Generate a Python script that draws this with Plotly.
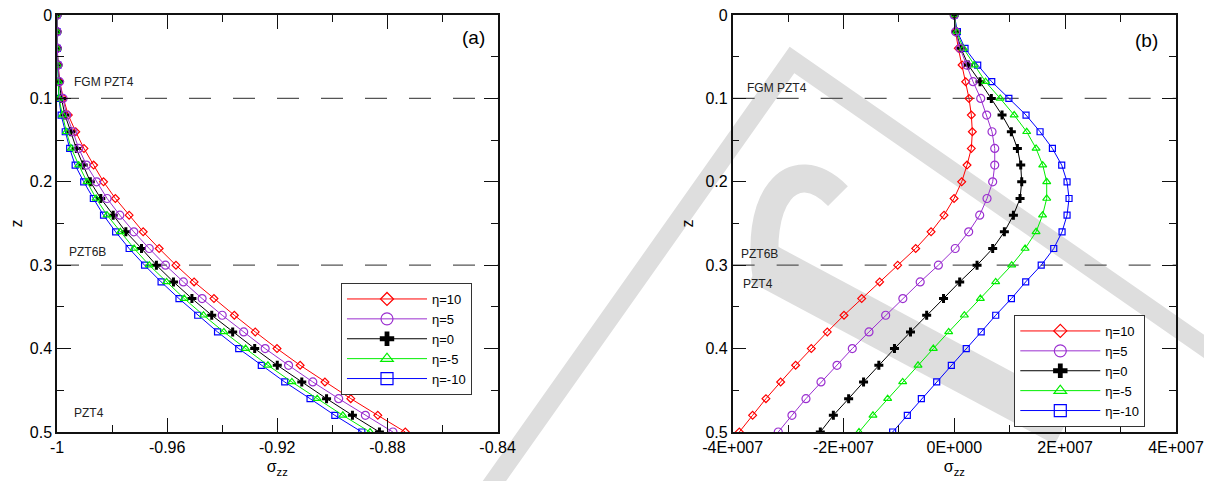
import plotly.graph_objects as go

# ---------------- data ----------------
z = [0.00, 0.02, 0.04, 0.06, 0.08, 0.10, 0.12, 0.14, 0.16, 0.18, 0.20, 0.22, 0.24,
     0.26, 0.28, 0.30, 0.32, 0.34, 0.36, 0.38, 0.40, 0.42, 0.44, 0.46, 0.48, 0.50]

# panel (a): normalised sigma_zz
a_eta10 = [-1.0000, -1.0000, -0.9999, -0.9996, -0.9990, -0.9977, -0.9959, -0.9932, -0.9902,
           -0.9867, -0.9831, -0.9788, -0.9738, -0.9687, -0.9629, -0.9568, -0.9502, -0.9430,
           -0.9356, -0.9280, -0.9201, -0.9117, -0.9027, -0.8933, -0.8835, -0.8735]
a_eta5 = [-1.0000, -1.0000, -0.9999, -0.9996, -0.9991, -0.9978, -0.9965, -0.9942, -0.9921,
          -0.9893, -0.9856, -0.9818, -0.9772, -0.9721, -0.9665, -0.9606, -0.9541, -0.9473,
          -0.9400, -0.9322, -0.9244, -0.9159, -0.9071, -0.8977, -0.8880, -0.8780]
a_eta0 = [-1.0000, -1.0000, -0.9999, -0.9997, -0.9992, -0.9984, -0.9971, -0.9950, -0.9930,
          -0.9905, -0.9879, -0.9841, -0.9796, -0.9750, -0.9693, -0.9639, -0.9577, -0.9510,
          -0.9438, -0.9362, -0.9282, -0.9200, -0.9111, -0.9021, -0.8927, -0.8829]
a_etam5 = [-1.0000, -1.0000, -0.9999, -0.9997, -0.9995, -0.9993, -0.9980, -0.9966, -0.9948,
           -0.9921, -0.9891, -0.9858, -0.9818, -0.9770, -0.9720, -0.9665, -0.9602, -0.9538,
           -0.9468, -0.9394, -0.9315, -0.9234, -0.9147, -0.9055, -0.8962, -0.8863]
a_etam10 = [-1.0000, -1.0000, -0.9999, -0.9997, -0.9995, -0.9993, -0.9985, -0.9970, -0.9954,
            -0.9934, -0.9903, -0.9868, -0.9831, -0.9787, -0.9738, -0.9682, -0.9622, -0.9557,
            -0.9489, -0.9417, -0.9340, -0.9258, -0.9173, -0.9081, -0.8991, -0.8893]

# panel (b): sigma_zz in units of 1E+007
b_eta10 = [0.000, 0.024, 0.072, 0.140, 0.205, 0.265, 0.307, 0.325, 0.307, 0.229, 0.133,
           -0.005, -0.186, -0.420, -0.697, -1.022, -1.347, -1.672, -1.991, -2.292, -2.581,
           -2.864, -3.134, -3.399, -3.640, -3.880]
b_eta5 = [0.000, 0.024, 0.103, 0.223, 0.338, 0.476, 0.584, 0.680, 0.729, 0.729, 0.692,
          0.590, 0.458, 0.259, 0.016, -0.288, -0.616, -0.929, -1.239, -1.540, -1.841,
          -2.117, -2.406, -2.677, -2.930, -3.177]
b_eta0 = [0.000, 0.030, 0.120, 0.252, 0.464, 0.668, 0.861, 1.029, 1.138, 1.198, 1.216,
          1.186, 1.066, 0.903, 0.692, 0.410, 0.097, -0.195, -0.499, -0.791, -1.080,
          -1.362, -1.638, -1.907, -2.183, -2.418]
b_etam5 = [0.000, 0.042, 0.163, 0.356, 0.563, 0.827, 1.080, 1.306, 1.475, 1.595, 1.667,
           1.667, 1.592, 1.475, 1.277, 1.035, 0.746, 0.470, 0.181, -0.102, -0.379,
           -0.655, -0.932, -1.203, -1.468, -1.720]
b_etam10 = [0.000, 0.055, 0.193, 0.422, 0.675, 0.984, 1.294, 1.547, 1.770, 1.938, 2.034,
            2.070, 2.034, 1.944, 1.794, 1.568, 1.288, 1.030, 0.747, 0.485, 0.215,
            -0.054, -0.318, -0.595, -0.848, -1.113]
b_unit = 1e7

names = ["η=10", "η=5", "η=0", "η=-5", "η=-10"]
a_series = [a_eta10, a_eta5, a_eta0, a_etam5, a_etam10]
b_series = [b_eta10, b_eta5, b_eta0, b_etam5, b_etam10]

a_ticks = [-1.0, -0.96, -0.92, -0.88, -0.84]
a_ticktext = ["-1", "-0.96", "-0.92", "-0.88", "-0.84"]
a_minor = [-0.98, -0.94, -0.90, -0.86]
b_ticks = [-4e7, -2e7, 0.0, 2e7, 4e7]
b_ticktext = ["-4E+007", "-2E+007", "0E+000", "2E+007", "4E+007"]
b_minor = [-3e7, -1e7, 1e7, 3e7]
z_ticks = [0.0, 0.1, 0.2, 0.3, 0.4, 0.5]
z_ticktext = ["0", "0.1", "0.2", "0.3", "0.4", "0.5"]
z_minor = [0.05, 0.15, 0.25, 0.35, 0.45]
interfaces = [0.1, 0.3]

# ---------------- styles ----------------
colors = ["#ff0000", "#9b30d0", "#000000", "#00ee00", "#0000ff"]
symbols = ["diamond-open", "circle-open", "cross", "triangle-up-open", "square-open"]
sizes = [6, 8, 7.5, 7, 6]
leg_sizes = [10, 12, 12, 11, 12]
draw_order = [4, 0, 2, 3, 1]
FONT = "Liberation Sans, Arial, sans-serif"
W, H = 1212, 481
PAGE = 8  # default body margin of the html page
ML, MR, MT, MB = 57 - PAGE, 36 + PAGE, 15 - PAGE, 49 + PAGE


def marker(i, size):
    return dict(symbol=symbols[i], size=size, color=colors[i],
                line=dict(color=colors[i], width=1.2 if symbols[i] != "cross" else 0))


fig = go.Figure()
for xa, ya, lg, series, scale in (("x", "y", "legend", a_series, 1.0),
                                  ("x2", "y2", "legend2", b_series, b_unit)):
    for i in draw_order:
        fig.add_trace(go.Scatter(x=[v * scale for v in series[i]], y=z, xaxis=xa, yaxis=ya,
                                 mode="lines+markers", name=names[i], showlegend=False,
                                 line=dict(color=colors[i], width=1), marker=marker(i, sizes[i])))
    # legend entries (no data drawn)
    for i in range(5):
        fig.add_trace(go.Scatter(x=[None], y=[None], xaxis=xa, yaxis=ya, mode="lines+markers",
                                 name=names[i], legend=lg, showlegend=True,
                                 line=dict(color=colors[i], width=1),
                                 marker=marker(i, leg_sizes[i])))

axis_common = dict(showline=True, linecolor="#111", linewidth=1.5, mirror="allticks",
                   ticks="inside", ticklen=14, tickwidth=1.3, tickcolor="#111",
                   showgrid=False, zeroline=False, tickmode="array", automargin=False,
                   ticklabeloverflow="allow",
                   tickfont=dict(family=FONT, size=16, color="#000"))
minor_common = dict(tickmode="array", ticks="inside", ticklen=7, tickwidth=1.3, tickcolor="#111")
title_font = dict(family=FONT, size=16, color="#000")

fig.update_layout(
    width=W, height=H, margin=dict(l=ML, r=MR, t=MT, b=MB, autoexpand=False),
    paper_bgcolor="white", plot_bgcolor="rgba(0,0,0,0)",
    font=dict(family=FONT, color="#000"),
    xaxis=dict(domain=[0, 0.3937], range=[-1, -0.84], tickvals=a_ticks, ticktext=a_ticktext,
               minor=dict(tickvals=a_minor, **minor_common),
               title=dict(text="σ<sub>zz</sub>", font=title_font, standoff=6),
               anchor="y", **axis_common),
    yaxis=dict(domain=[0, 1], range=[0.5, 0], tickvals=z_ticks, ticktext=z_ticktext,
               minor=dict(tickvals=z_minor, **minor_common),
               title=dict(text="z", font=title_font, standoff=8),
               anchor="x", **axis_common),
    xaxis2=dict(domain=[0.6038, 1], range=[-4e7, 4e7], tickvals=b_ticks, ticktext=b_ticktext,
                minor=dict(tickvals=b_minor, **minor_common),
                title=dict(text="σ<sub>zz</sub>", font=title_font, standoff=6),
                anchor="y2", **axis_common),
    yaxis2=dict(domain=[0, 1], range=[0.5, 0], tickvals=z_ticks, ticktext=z_ticktext,
                minor=dict(tickvals=z_minor, **minor_common),
                title=dict(text="z", font=title_font, standoff=8),
                anchor="x2", **axis_common),
    legend=dict(x=0.2538, y=0.3573, xanchor="left", yanchor="top", bgcolor="white",
                bordercolor="#333", borderwidth=1, itemwidth=80,
                font=dict(family=FONT, size=13, color="#000"), tracegroupgap=0),
    legend2=dict(x=0.8555, y=0.2806, xanchor="left", yanchor="top", bgcolor="white",
                 bordercolor="#333", borderwidth=1, itemwidth=80,
                 font=dict(family=FONT, size=13, color="#000"), tracegroupgap=0),
    showlegend=True,
)


# light grey watermark (page decoration behind the charts), page pixel -> paper
def px(x, y):
    return (x - PAGE - ML) / (W - ML - MR), 1 - (y - PAGE - MT) / (H - MT - MB)


def path(cmds):
    s = ""
    for c, pts in cmds:
        s += c + " ".join(f"{px(x, y)[0]:.4f},{px(x, y)[1]:.4f}" for x, y in pts) + " "
    return s


WM = "#dedede"
fig.add_shape(type="path", xref="paper", yref="paper", layer="below",
              path=path([("M", [(488, 490)]), ("L", [(792, 60)]), ("L", [(1225, 361)])]),
              line=dict(color=WM, width=19))
fig.add_shape(type="path", xref="paper", yref="paper", layer="below",
              path=path([("M", [(760, 262)]), ("L", [(1065, 425)])]),
              line=dict(color=WM, width=44))
fig.add_shape(type="path", xref="paper", yref="paper", layer="below",
              path=path([("M", [(768, 285)]), ("C", [(752, 200), (792, 150), (838, 196)])]),
              line=dict(color=WM, width=28))

# dashed interface lines
for xr, yr in (("x domain", "y"), ("x2 domain", "y2")):
    for zi in interfaces:
        fig.add_shape(type="line", xref=xr, yref=yr, x0=0, x1=1, y0=zi, y1=zi,
                      line=dict(color="#555", width=1.3, dash="22px,22px"), layer="below")

ann_font = dict(family=FONT, size=12, color="#222")
labels = [
    ("x", "y", -0.99465, 0.080, "FGM PZT4", "left", ann_font),
    ("x", "y", -0.9965, 0.284, "PZT6B", "left", ann_font),
    ("x", "y", -0.9947, 0.477, "PZT4", "left", ann_font),
    ("x", "y", -0.8437, 0.027, "(a)", "right", dict(family=FONT, size=19, color="#000")),
    ("x2", "y2", -3.78e7, 0.087, "FGM PZT4", "left", ann_font),
    ("x2", "y2", -3.89e7, 0.287, "PZT6B", "left", ann_font),
    ("x2", "y2", -3.85e7, 0.322, "PZT4", "left", ann_font),
    ("x2", "y2", 3.71e7, 0.031, "(b)", "right", dict(family=FONT, size=19, color="#000")),
]
for xr, yr, x, y, t, xa, f in labels:
    fig.add_annotation(xref=xr, yref=yr, x=x, y=y, text=t, showarrow=False,
                       xanchor=xa, yanchor="middle", font=f)

fig.write_html("out.html")
